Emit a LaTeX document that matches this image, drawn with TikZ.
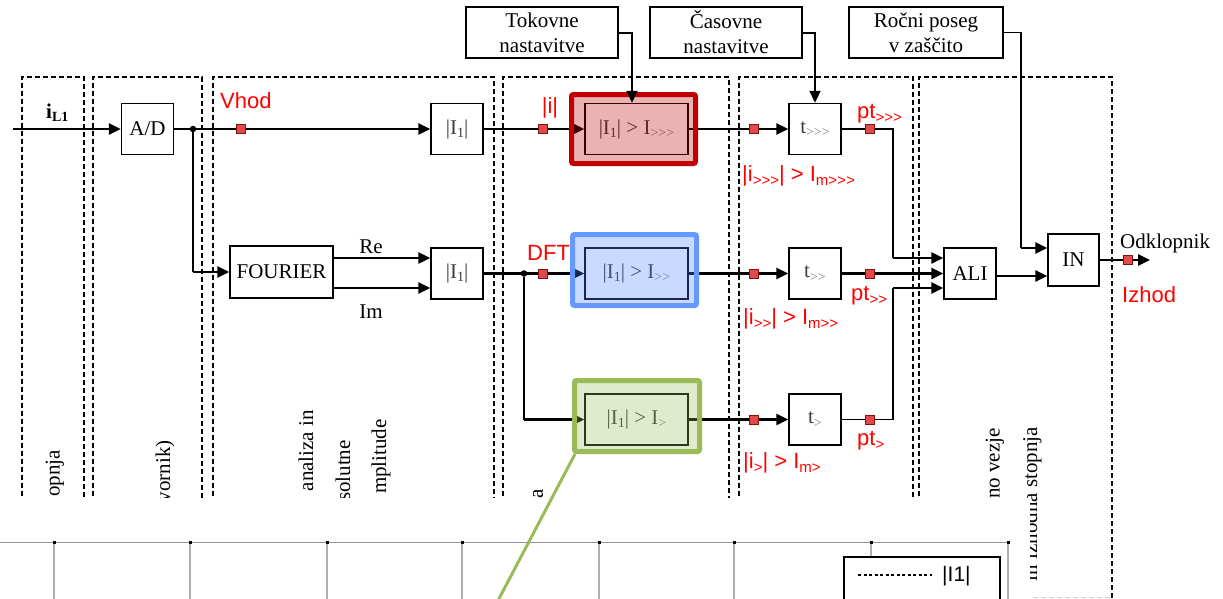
\documentclass[tikz,border=0pt]{standalone}
\usepackage{fontspec}
\setmainfont{Liberation Serif}[Ligatures=TeXOff]
\newfontfamily\arialf{Liberation Sans}[Ligatures=TeXOff]
\usetikzlibrary{arrows.meta}

\definecolor{lblred}{RGB}{255,0,0}
\definecolor{mkfill}{RGB}{226,74,74}
\definecolor{mkdraw}{RGB}{128,20,20}
\definecolor{hlred}{RGB}{192,0,0}
\definecolor{hlblue}{RGB}{102,153,255}
\definecolor{hlbluefill}{RGB}{80,130,255}
\definecolor{hlgreen}{RGB}{155,187,89}
\definecolor{txtgray}{RGB}{60,60,60}
\definecolor{subgray}{RGB}{130,130,130}
\definecolor{chartgray}{RGB}{175,175,175}

% lowered small indices
\newcommand{\isub}[1]{\raisebox{-0.35ex}{\fontsize{14}{14}\selectfont #1}}
\newcommand{\rsub}[1]{\raisebox{-0.4ex}{\fontsize{15}{15}\selectfont #1}}
\newcommand{\gtidx}[1]{\isub{\color{subgray}#1}}

\tikzset{
  blk/.style={draw=black, line width=1.4pt, inner sep=0pt,
    minimum width=52pt, minimum height=51pt, font=\fontsize{21}{25}\selectfont},
  wideblk/.style={blk, minimum width=103pt},
  note/.style={blk, minimum width=152pt, align=center},
  sig/.style={line width=2.6pt, -{Triangle[length=12pt,width=11pt]}},
  thinl/.style={line width=1.5pt},
  medl/.style={line width=2pt},
  sq/.style={draw=mkdraw, fill=mkfill, line width=0.8pt, minimum size=9pt, inner sep=0pt},
  lbl/.style={text=lblred, font=\arialf\fontsize{22}{26}\selectfont, inner sep=0pt},
  jdot/.style={circle, fill=black, minimum size=6.5pt, inner sep=0pt},
  col/.style={draw=black, line width=2.5pt, dash pattern=on 5pt off 3pt},
  vtext/.style={rotate=90, anchor=east, inner sep=0pt, font=\fontsize{21}{25}\selectfont},
  hl/.style={line width=5pt, rounded corners=2pt, fill opacity=0.3, inner sep=0pt},
  plain/.style={inner sep=0pt, font=\fontsize{21}{25}\selectfont},
}

\begin{document}
\begin{tikzpicture}[x=1pt, y=-1pt]
\clip (0,0) rectangle (1223,598);
\fill[white] (0,0) rectangle (1223,598);

% ---- dashed stage frames ----
\draw[col] (22,640) |- (84,77) -- (84,640);
\draw[col] (93,640) |- (202,77) -- (202,640);
\draw[col] (213,640) |- (494,77) -- (494,640);
\draw[col] (503,640) |- (729,77) -- (729,640);
\draw[col] (739,640) |- (913,77) -- (913,640);
\draw[col] (919,640) |- (1112,77) -- (1112,640);
\draw[gray!35, line width=1pt, dash pattern=on 5pt off 3pt] (1033,597) -- (1110,597);

% ---- stage captions (vertical) ----
\node[vtext] at (55,450) {opnja};
\node[vtext] at (165,440) {vornik)};
\node[vtext] at (306,410) {analiza in};
\node[vtext] at (343,440) {solutne};
\node[vtext] at (381,419) {mplitude};
\node[vtext] at (538,489) {a};
\node[vtext] at (995,428) {no vezje};
\node[vtext] at (1032,427) {in izhodna stopnja};

% ---- setting boxes ----
\node[note] (Tok) at (542,32.5) {Tokovne\\nastavitve};
\node[note] (Cas) at (726,32.5) {Časovne\\nastavitve};
\node[note, minimum width=154pt] (Roc) at (926,32.5) {Ročni poseg\\v zaščito};

% ---- processing blocks ----
\node[blk] (AD) at (147.5,129) {A/D};
\node[blk] (I1a) at (457,129) {\color{txtgray}|I\isub{1}|};
\node[blk, minimum width=103pt, minimum height=52pt] (F) at (281.5,272) {FOURIER};
\node[blk] (I1b) at (457,273.5) {\color{txtgray}|I\isub{1}|};

\node[wideblk] (Ra) at (636.5,129) {\color{txtgray}|I\isub{1}| > I\gtidx{>>>}};
\node[wideblk] (Bi) at (636.5,273.5) {\color{txtgray}|I\isub{1}| > I\gtidx{>>}};
\node[wideblk] (Gi) at (636.5,419.5) {\color{txtgray}|I\isub{1}| > I\gtidx{>}};

\node[blk] (T3) at (815,129) {\color{txtgray}t\gtidx{>>>}};
\node[blk] (T2) at (815,273.5) {\color{txtgray}t\gtidx{>>}};
\node[blk] (T1) at (815,419.5) {\color{txtgray}t\gtidx{>}};

\node[blk] (ALI) at (970,273.5) {ALI};
\node[blk, minimum width=51pt, minimum height=52pt] (IN) at (1073.5,260) {IN};

% ---- signal path ----
\coordinate (src) at (13,129);
\draw[sig] (src) -- (AD.west);
\draw[sig] (AD.east) -- (I1a.west);
\node[jdot] (j1) at (193,129) {};
\coordinate (j1b) at (193,272);
\draw[thinl] (j1) -- (j1b);
\draw[sig] (j1b) -- (F.west);

\coordinate (re0) at (333,258);
\coordinate (im0) at (333,288);
\draw[sig] (re0) -- (re0 -| I1b.west);
\draw[sig] (im0) -- (im0 -| I1b.west);

\draw[sig] (I1a.east) -- (Ra.west);
\draw[sig] (I1b.east) -- (Bi.west);
\node[jdot] (j2) at (524,273.5) {};
\coordinate (j2b) at (524,419.5);
\draw[thinl] (j2) -- (j2b);
\draw[sig] (j2b) -- (Gi.west);

\draw[sig] (Ra.east) -- (T3.west);
\draw[sig] (Bi.east) -- (T2.west);
\draw[sig] (Gi.east) -- (T1.west);

\coordinate (k3) at (893,129);
\coordinate (k3b) at (893,258);
\draw[thinl] (T3.east) -- (k3) -- (k3b);
\draw[sig] (k3b) -- (k3b -| ALI.west);
\draw[sig] (T2.east) -- (ALI.west);
\coordinate (k1) at (893,419.5);
\coordinate (k1b) at (893,288);
\draw[thinl] (T1.east) -- (k1) -- (k1b);
\draw[sig] (k1b) -- (k1b -| ALI.west);

\coordinate (aout) at (996,276);
\draw[sig] (aout) -- (aout -| IN.west);
\coordinate (rk) at (1021,248);
\draw[thinl] (Roc.east) -| (rk);
\draw[sig] (rk) -- (rk -| IN.west);
\coordinate (outend) at (1150,260);
\draw[sig] (IN.east) -- (outend);

\draw[medl, -{Triangle[length=12pt,width=11pt]}] (Cas.east) -| (T3.north);

% ---- measuring points ----
\foreach \p/\q in {mv/{241,129}, mi/{543,129}, m3a/{754,129}, m3b/{870,129},
                   md/{543,273.5}, m2a/{754,273.5}, m2b/{870,273.5},
                   m1a/{754,419.5}, m1b/{870,419.5}, mo/{1128,260}}
  \node[sq] (\p) at (\q) {};

% ---- labels ----
\node[plain, anchor=base west, font=\fontsize{21}{25}\selectfont\bfseries] (iL) at (46,118) {i\isub{L1}};
\node[plain, anchor=base] (lre) at (371,253) {Re};
\node[plain, anchor=base] (lim) at (371,318) {Im};
\node[plain, anchor=base west] (lodk) at (1120,248) {Odklopnik};

\node[lbl, anchor=base west] (lvh) at (220,108) {Vhod};
\node[lbl, anchor=base] (li) at (550,113) {|i|};
\node[lbl, anchor=base west] (ldft) at (527,260) {DFT};
\node[lbl, anchor=base west] (lp3) at (857,118) {pt\rsub{>>>}};
\node[lbl, anchor=base west] (lc3) at (742,181) {|i\rsub{>>>}| > I\rsub{m>>>}};
\node[lbl, anchor=base west] (lp2) at (851,300) {pt\rsub{>>}};
\node[lbl, anchor=base west] (lc2) at (743,324) {|i\rsub{>>}| > I\rsub{m>>}};
\node[lbl, anchor=base west] (lp1) at (857,445) {pt\rsub{>}};
\node[lbl, anchor=base west] (lc1) at (743,468) {|i\rsub{>}| > I\rsub{m>}};
\node[lbl, anchor=base west] (liz) at (1122,302) {Izhod};

% ---- highlighted comparator stages ----
\node[hl, draw=hlred, fill=hlred, minimum width=124pt, minimum height=69pt] (Rhl) at (633.5,129) {};
\node[hl, draw=hlblue, fill=hlbluefill, minimum width=124pt, minimum height=71pt] (Bhl) at (634.5,270) {};
\node[hl, draw=hlgreen, fill=hlgreen, minimum width=125pt, minimum height=71pt] (Ghl) at (637,416) {};

\draw[medl, -{Triangle[length=12pt,width=11pt]}] (Tok.east) -| ([xshift=-4.5pt]Ra.north);

% ---- lower chart panel ----
\fill[white] (0,498) rectangle (1030,640);
\draw[chartgray!85!black, line width=1pt] (0,542) -- (1008,542);
\foreach \x in {54,190,327,462,599,734,1008}
  \draw[chartgray, line width=1.5pt] (\x,542) -- (\x,640);
\draw[chartgray, line width=1.5pt] (871,542) -- (871,556);
\foreach \x in {54,190,327,462,599,734,871,1008}
  \fill[black] (\x-1.5,541) rectangle (\x+1.5,544);
\node[draw=black, line width=1.5pt, minimum width=156pt, minimum height=70pt,
      inner sep=0pt, anchor=north west] (leg) at (843,556) {};
\draw[line width=2.5pt, dash pattern=on 3pt off 2.5pt] (858,575) -- (932,575);
\node[plain, anchor=west, font=\arialf\fontsize{21}{25}\selectfont] (legt) at (942,576) {|I1|};

\coordinate (gend) at (492,612);
\draw[hlgreen, line width=3pt] ([xshift=3pt]Ghl.south west) -- (gend);
\end{tikzpicture}
\end{document}
